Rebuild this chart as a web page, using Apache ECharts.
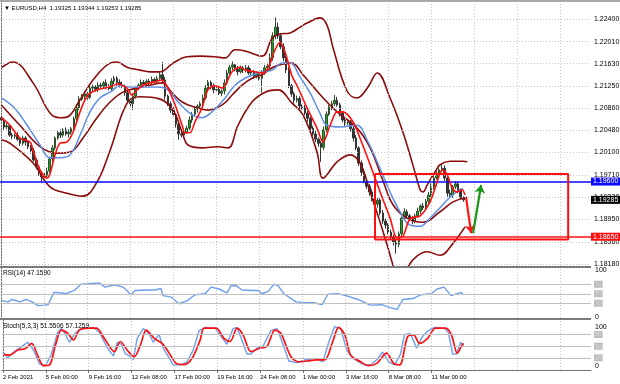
<!DOCTYPE html>
<html><head><meta charset="utf-8">
<script src="https://cdn.jsdelivr.net/npm/echarts@6/dist/echarts.min.js"></script>
<style>html,body{margin:0;padding:0;background:#fff}#c{width:620px;height:384px}</style>
</head><body><div id="c"></div>
<script>
// ---------- DATA ----------
const firstOpen = 1.2070;
const closes = [1.2066,1.2054,1.2056,1.2040,1.2038,1.2040,1.2033,1.2026,1.2035,1.2028,
1.2020,1.2013,1.1997,1.1985,1.1975,1.1968,1.1971,1.1978,1.1999,1.2018,
1.2035,1.2044,1.2040,1.2049,1.2042,1.2045,1.2051,1.2068,1.2087,1.2102,
1.2107,1.2111,1.2105,1.2121,1.2123,1.2119,1.2126,1.2124,1.2130,1.2124,
1.2120,1.2133,1.2138,1.2131,1.2126,1.2124,1.2113,1.2100,1.2094,1.2107,
1.2121,1.2126,1.2131,1.2128,1.2133,1.2131,1.2136,1.2132,1.2138,1.2144,
1.2135,1.2107,1.2094,1.2083,1.2075,1.2059,1.2042,1.2040,1.2045,1.2052,
1.2066,1.2076,1.2085,1.2090,1.2094,1.2104,1.2121,1.2131,1.2124,1.2118,
1.2119,1.2112,1.2116,1.2130,1.2147,1.2157,1.2161,1.2154,1.2149,1.2156,
1.2152,1.2156,1.2147,1.2149,1.2142,1.2145,1.2138,1.2149,1.2156,1.2159,
1.2173,1.2211,1.2226,1.2211,1.2192,1.2173,1.2152,1.2125,1.2111,1.2100,
1.2103,1.2090,1.2087,1.2078,1.2069,1.2052,1.2042,1.2033,1.2026,1.2019,
1.2049,1.2076,1.2088,1.2094,1.2100,1.2092,1.2078,1.2066,1.2061,1.2063,
1.2051,1.2035,1.2018,1.1992,1.1976,1.1961,1.1952,1.1942,1.1930,1.1921,
1.1928,1.1906,1.1892,1.1885,1.1873,1.1864,1.1856,1.1852,1.1870,1.1897,
1.1908,1.1901,1.1896,1.1892,1.1901,1.1909,1.1918,1.1915,1.1926,1.1937,
1.1951,1.1966,1.1973,1.1980,1.1983,1.1966,1.1940,1.1937,1.1951,1.1956,
1.1945,1.19325,1.19285];
// wick lengths beyond the body, in pips
const hiWick = [4,3,5,2,4,3,5,3,4,3, 2,3,4,3,2,3,5,6,4,5, 3,4,6,3,4,5,3,4,6,5, 4,5,3,6,4,3,5,4,3,6,
4,5,4,3,5,6,3,4,3,5, 4,3,5,4,3,4,5,3,4,6, 22,5,3,4,5,3,4,3,5,4, 6,4,5,3,4,6,5,4,3,5,
4,5,3,6,5,4,6,3,5,4, 3,5,4,6,3,5,4,3,5,6, 8,6,17,8,5,6,4,5,3,4, 5,4,3,5,4,3,4,5,3,4,
6,5,4,5,9,6,4,3,5,4, 3,4,5,3,4,6,3,4,5,6, 4,3,5,4,3,4,5,6,4,3, 6,4,3,5,4,6,3,5,4,5,
6,4,5,3,6,5,4,6,3,5, 4,3,1.9];
const loWick = [3,5,4,3,5,4,3,5,4,6, 4,5,3,4,5,9,6,4,3,5, 4,3,5,4,3,6,4,3,5,4, 3,5,4,3,6,4,5,3,4,5,
3,4,5,6,4,3,5,4,6,11, 4,3,5,4,3,5,4,3,4,5, 5,6,4,5,3,6,10,4,5,3, 4,5,3,6,4,5,3,4,5,6,
4,3,5,6,4,3,5,4,6,3, 5,4,3,6,5,4,4,25,5,4, 4,5,6,5,4,6,5,4,5,6, 4,5,3,4,6,5,4,5,6,25,
5,4,3,5,4,3,6,4,5,4, 5,6,4,5,6,4,5,6,4,5, 6,4,5,6,4,5,6,16,5,4, 3,5,4,6,4,3,5,4,3,5,
4,5,3,6,4,5,6,4,5,4, 5,4,3.2];
const lastBar = [1.19325, 1.19344, 1.19253, 1.19285]; // O H L C
const symbolName = 'EURUSD,H4';

const dateTickIdx  = [0,16,32,48,64,80,96,112,128,144,160];
const dateTickText = ['2 Feb 2021','5 Feb 00:00','9 Feb 16:00','12 Feb 08:00','17 Feb 00:00','19 Feb 16:00','24 Feb 08:00','1 Mar 00:00','3 Mar 16:00','8 Mar 08:00','11 Mar 00:00'];
const vGridIdx = [0,16,32,48,64,80,96,112,128,144,160,176,192,208];
const priceTicks = [1.22400,1.22010,1.21630,1.21250,1.20860,1.20480,1.20100,1.19710,1.19330,1.18950,1.18560,1.18180];

// indicator lines: [bar index, value]
const bbUpper = [[0,1.2156],[4.3,1.2166],[11.8,1.2130],[18.1,1.2078],[21.8,1.2070],[24.4,1.2071],[29.3,1.2101],[34.1,1.2135],[40.5,1.2164],[43.1,1.2166],[46.8,1.2157],[51.6,1.2152],[55.3,1.2149],[59.1,1.2149],[63.9,1.2164],[69.1,1.2175],[74.0,1.2176],[79.5,1.2175],[83.3,1.2173],[87.0,1.2187],[90.7,1.2185],[97.1,1.2176],[100.8,1.2207],[103.7,1.2214],[107.5,1.2216],[111.2,1.2226],[113.8,1.2233],[118.6,1.2242],[121.2,1.2230],[123.5,1.2190],[128.7,1.2116],[132.4,1.2104],[136.5,1.2123],[139.9,1.2147],[144.7,1.2104],[149.5,1.2045],[153.3,1.1987],[155.9,1.1946],[157.0,1.1942],[158.5,1.1954],[159.6,1.1963],[161.5,1.1977],[163.3,1.1989],[167.0,1.1995],[171.9,1.1995],[173.4,1.1994]];
const bbMiddle = [[0,1.2092],[6.9,1.2057],[14.4,1.2020],[20.7,1.2009],[25.6,1.2011],[30.4,1.2035],[35.6,1.2070],[40.5,1.2097],[45.3,1.2114],[50.5,1.2121],[55.3,1.2126],[59.8,1.2130],[63.5,1.2113],[67.3,1.2097],[72.1,1.2088],[76.9,1.2083],[82.2,1.2092],[85.9,1.2109],[89.6,1.2126],[93.3,1.2138],[97.1,1.2144],[100.8,1.2156],[104.5,1.2162],[108.2,1.2164],[112.3,1.2144],[119.8,1.2104],[125.0,1.2080],[132.4,1.2052],[137.3,1.2018],[142.1,1.1961],[145.8,1.1920],[151.0,1.1897],[157.0,1.1890],[163.3,1.1908],[168.2,1.1925],[173.4,1.1933]];
const bbLower = [[0,1.2032],[3.2,1.2026],[11.8,1.1992],[18.1,1.1951],[24.4,1.1940],[30.4,1.1935],[35.6,1.1959],[40.5,1.2014],[46.8,1.2095],[51.6,1.2106],[59.1,1.2102],[63.9,1.2083],[67.3,1.2045],[69.5,1.2023],[74.7,1.2018],[80.7,1.2020],[84.4,1.2018],[88.1,1.2057],[93.3,1.2097],[98.2,1.2114],[103.0,1.2118],[108.2,1.2095],[112.3,1.2075],[117.5,1.2011],[119.8,1.1966],[125.0,1.1994],[129.8,1.2006],[133.5,1.1992],[137.3,1.1942],[141.0,1.1890],[143.6,1.1851],[145.8,1.1816],[148.4,1.1782],[151.6,1.1815],[154.8,1.1832],[158.5,1.1839],[163.3,1.1833],[168.2,1.1854],[172.6,1.1882]];
const maSlow = [[0,1.2104],[4.8,1.2087],[9.6,1.2057],[14.4,1.2023],[18.1,1.2001],[21.8,1.2001],[25.6,1.2006],[29.3,1.2040],[33.0,1.2080],[36.7,1.2104],[40.5,1.2114],[44.2,1.2125],[47.9,1.2123],[55.3,1.2123],[58.3,1.2123],[62.0,1.2118],[65.8,1.2097],[71.0,1.2075],[74.7,1.2070],[78.4,1.2080],[83.3,1.2104],[87.0,1.2126],[90.7,1.2138],[95.6,1.2147],[100.8,1.2152],[104.5,1.2164],[107.5,1.2164],[111.2,1.2140],[114.9,1.2113],[118.6,1.2078],[121.2,1.2057],[126.1,1.2054],[132.4,1.2057],[136.1,1.2032],[139.9,1.1994],[144.7,1.1942],[148.4,1.1908],[152.1,1.1885],[155.9,1.1883],[159.6,1.1897],[163.3,1.1915],[167.0,1.1933],[170.8,1.1946],[171.9,1.1947]];
const maFast = [[0,1.2070],[3.2,1.2057],[6.9,1.2035],[10.7,1.2028],[11.8,1.2014],[14.4,1.1980],[17.0,1.1966],[18.1,1.1973],[20.0,1.2006],[21.8,1.2026],[24.4,1.2028],[26.7,1.2045],[29.3,1.2080],[31.9,1.2107],[35.6,1.2118],[40.5,1.2123],[43.1,1.2128],[46.8,1.2121],[48.6,1.2109],[50.5,1.2118],[52.7,1.2126],[55.3,1.2130],[57.2,1.2132],[59.8,1.2135],[62.0,1.2121],[64.7,1.2092],[67.3,1.2057],[68.4,1.2044],[70.2,1.2044],[72.1,1.2063],[74.7,1.2087],[76.9,1.2118],[79.5,1.2125],[82.2,1.2121],[85.9,1.2149],[88.9,1.2157],[90.7,1.2152],[94.4,1.2149],[97.1,1.2147],[99.3,1.2156],[101.9,1.2187],[103.7,1.2200],[105.6,1.2183],[108.2,1.2142],[110.1,1.2125],[113.8,1.2087],[117.5,1.2052],[119.8,1.2028],[122.4,1.2057],[125.0,1.2080],[127.2,1.2080],[130.9,1.2063],[133.5,1.2035],[137.3,1.1989],[141.0,1.1942],[144.7,1.1897],[147.3,1.1863],[149.5,1.1866],[152.1,1.1896],[155.9,1.1901],[159.6,1.1925],[162.2,1.1959],[164.1,1.1980],[165.9,1.1973],[167.8,1.1949],[169.6,1.1942],[171.5,1.1946],[172.6,1.1937]];

const rsi14 = [[0,36],[2.5,33],[4,38],[6.9,33],[9.2,38],[11.4,33],[13.6,25],[15.9,26],[17.4,27],[19.6,53],[21.8,52],[24.1,50],[27.1,57],[29.7,70],[32.6,71],[36.4,73],[38.6,64],[42.3,69],[45.3,64],[48.3,48],[49.8,57],[54.2,58],[57.2,58],[59.4,61],[60.2,46],[63.2,43],[66.1,29],[69.1,35],[72.1,48],[75.8,50],[78.1,64],[81,60],[84,52],[85.5,67],[87.4,67],[89.6,58],[93.3,57],[95.6,57],[97.1,50],[99.3,55],[101.5,70],[103,67],[105.2,50],[109.7,33],[113.4,31],[116.4,31],[119.4,27],[121.6,49],[125.3,50],[128.3,46],[132.8,38],[137.3,26],[141.7,27],[144,22],[147.3,17],[149.5,38],[153.3,40],[156.2,48],[160,50],[162.2,60],[164.8,64],[167.4,46],[171.1,53],[172,47.1590]];
const rsiLevels = [70,50,30];
const stochMain = [[0,35],[1.7,20],[4,35],[6.2,45],[9.2,60],[11.4,40],[13.6,5],[15.9,0],[18.1,30],[20.4,85],[21.8,95],[23.3,80],[24.8,60],[27.1,85],[29.3,96],[33.8,98],[36,85],[39,45],[41.2,25],[42.7,60],[44.2,55],[45.7,30],[47.2,25],[48.6,15],[50.1,70],[52.4,95],[54.6,80],[56.1,60],[58.3,80],[59.8,45],[62,20],[63.5,2],[66.5,2],[68.7,10],[71,40],[73.2,90],[75.5,98],[79.2,96],[81.4,75],[83.6,55],[85.9,95],[87.4,98],[88.9,70],[91.1,30],[92.6,30],[94.8,45],[97.1,50],[100,90],[102.3,95],[104.5,55],[106.7,12],[109.7,8],[112.7,15],[115.7,18],[117.9,15],[119.4,10],[121.6,60],[123.8,100],[126.1,95],[128.3,40],[130.5,20],[132.8,10],[135,2],[137.3,2],[139.5,15],[141.7,35],[144,10],[146.2,2],[148.4,30],[149.9,80],[152.1,82],[154.4,45],[156.6,75],[158.8,90],[161.1,98],[164.8,96],[166.3,85],[167.8,30],[169.3,30],[170.8,60],[171.5,62],[172,51.5506]];
const stochSignal = [[0,29],[2.5,27],[5.5,40],[8.4,44],[10.7,57],[12.9,27],[15.1,0],[17.4,2],[19.6,53],[21.8,91],[24.1,83],[26.3,66],[28.5,91],[31.9,96],[34.9,96],[37.8,70],[41.6,36],[43.8,62],[46.8,36],[49,23],[51.3,53],[53.5,91],[56.5,70],[59.4,57],[61.7,36],[64.7,6],[67.6,3],[70.6,19],[73.6,66],[75.1,96],[79.5,96],[82.5,70],[84.8,62],[87.4,96],[89.6,79],[92.6,36],[95.6,44],[98.5,49],[101.5,91],[103.7,83],[107.5,23],[110.4,10],[113.4,12],[117.1,15],[120.1,15],[123.1,62],[125.3,98],[127.6,79],[129.8,27],[133.5,10],[136.5,0],[139.5,6],[143.2,32],[145.8,6],[148.1,2],[151,74],[153.3,79],[155.5,57],[158.5,70],[161.5,96],[165.2,96],[167.4,79],[169.6,32],[171.4,53],[172,57.1259]];
const stochLevels = [80,50,20];

const resistLine = 1.19600;
const supportLine = 1.18650;
const zoneBox = {from:139.1, to:211.0, top:1.1973, bottom:1.1860};
const downArrow = [[173.0,1.1932],[174.9,1.1871]];
const upArrow = [[175.6,1.1871],[178.6,1.1954]];

// ---------- BUILD ----------
const FONT = '"Liberation Sans", Arial, sans-serif';
const NCAT = 220;
const cats = Array.from({length:NCAT}, (_, i) => String(i));
const candles = closes.map((c, i) => {
  const o = i === 0 ? firstOpen : closes[i-1];
  const hi = Math.max(o, c) + hiWick[i] * 0.0001;
  const lo = Math.min(o, c) - loWick[i] * 0.0001;
  return [o, c, +lo.toFixed(5), +hi.toFixed(5)];
});
const gridDot = {color:'#c4c4c4', type:[1,2], width:1};
const vLines = vGridIdx.map(v => ({xAxis:v, lineStyle:gridDot, label:{show:false}}));
const tickLab = (v, txt) => ({yAxis:v, lineStyle:gridDot,
  label:{show:true, position:'end', formatter:txt, color:'#000', fontSize:7, distance:3, fontFamily:FONT}});
const levelLab = (v) => ({yAxis:v, lineStyle:{color:'#c0c0c0', width:1, type:'solid'},
  label:{show:true, position:'end', formatter:String(v), color:'#d6d6d6', backgroundColor:'#bdbdbd', fontSize:6, distance:3, padding:[1,1,0,1], fontFamily:FONT}});
const edgeLab = (v) => ({yAxis:v, lineStyle:{color:'rgba(0,0,0,0)', width:1},
  label:{show:true, position:'end', formatter:String(v), color:'#000', fontSize:7, distance:4, fontFamily:FONT}});
const boxLab = (v, bg, col) => ({yAxis:v, lineStyle:{color:col, width:1.6, type:'solid'},
  label:{show:true, position:'end', formatter:v.toFixed(5), color:'#fff', backgroundColor:bg, fontSize:7, distance:0, padding:[1,3,0,2], fontFamily:FONT}});
const lineS = (data, color, w, xi, yi, z, smooth) => ({type:'line', data, xAxisIndex:xi, yAxisIndex:yi, showSymbol:false, symbol:'none',
  smooth: smooth || false, lineStyle:{color, width:w}, z, silent:true, animation:false});
const mark = (data, extra) => Object.assign({silent:true, symbol:['none','none'], animation:false, precision:6, data}, extra || {});

const chart = echarts.init(document.getElementById('c'), null, {renderer:'canvas'});
chart.setOption({
  animation:false,
  backgroundColor:'#ffffff',
  grid:[
    {left:0, right:29, top:3, height:263},
    {left:0, right:29, top:268, height:50},
    {left:0, right:29, top:320, height:50}
  ],
  xAxis:[
    {type:'category', gridIndex:0, data:cats, boundaryGap:true, show:false},
    {type:'value', gridIndex:0, min:-0.5, max:NCAT-0.5, show:false},
    {type:'value', gridIndex:1, min:-0.5, max:NCAT-0.5, show:false},
    {type:'value', gridIndex:2, min:-0.5, max:NCAT-0.5, show:false},
    {type:'category', gridIndex:2, data:cats, boundaryGap:true, position:'bottom',
      axisLine:{show:true, lineStyle:{color:'#707070', width:1}},
      axisTick:{show:true, alignWithLabel:true, length:3, lineStyle:{color:'#707070'},
        interval:(i) => dateTickIdx.indexOf(i) >= 0},
      axisLabel:{show:true, interval:(i) => dateTickIdx.indexOf(i) >= 0,
        formatter:(v) => { const k = dateTickIdx.indexOf(+v); return k >= 0 ? dateTickText[k] : ''; },
        align:'left', margin:4, fontSize:6, color:'#000', fontFamily:FONT},
      splitLine:{show:false}}
  ],
  yAxis:[
    {type:'value', gridIndex:0, min:1.181456, max:1.226756, position:'right', scale:true,
      axisLine:{show:true, lineStyle:{color:'#707070'}}, axisLabel:{show:false}, axisTick:{show:false}, splitLine:{show:false}},
    {type:'value', gridIndex:1, min:-1, max:104.2, position:'right',
      axisLine:{show:true, lineStyle:{color:'#707070'}}, axisLabel:{show:false}, axisTick:{show:false}, splitLine:{show:false}},
    {type:'value', gridIndex:2, min:-11, max:117, position:'right',
      axisLine:{show:true, lineStyle:{color:'#707070'}}, axisLabel:{show:false}, axisTick:{show:false}, splitLine:{show:false}}
  ],
  graphic:[
    {type:'rect', shape:{x:0, y:0, width:620, height:2}, style:{fill:'#a8a8a8'}, z:10},
    {type:'rect', shape:{x:0, y:266, width:591, height:2}, style:{fill:'#7a7a7a'}, z:10},
    {type:'rect', shape:{x:0, y:318, width:591, height:2}, style:{fill:'#7a7a7a'}, z:10},
    {type:'text', left:4, top:5, z:10, style:{text:'\u25BC ' + symbolName + '  ' + lastBar.map(v => v.toFixed(5)).join(' '), fontSize:6, fill:'#000', fontFamily:FONT}},
    {type:'text', left:3, top:270, z:10, style:{text:'RSI(14) ' + rsi14[rsi14.length-1][1].toFixed(4), fontSize:6.5, fill:'#000', fontFamily:FONT}},
    {type:'text', left:3, top:323, z:10, style:{text:'Stoch(5,3,3) ' + stochMain[stochMain.length-1][1].toFixed(4) + ' ' + stochSignal[stochSignal.length-1][1].toFixed(4), fontSize:6.5, fill:'#000', fontFamily:FONT}}
  ],
  series:[
    // main grid lines + price labels
    {type:'line', xAxisIndex:1, yAxisIndex:0, data:[], z:0, silent:true,
      markLine: mark(priceTicks.map(v => tickLab(v, v.toFixed(5))).concat(vLines))},
    {type:'candlestick', xAxisIndex:0, yAxisIndex:0, data:candles, barWidth:2, z:2, silent:true,
      itemStyle:{color:'#1fa61f', color0:'#333333', borderColor:'#2f4f2f', borderColor0:'#333333', borderWidth:1}},
    lineS(bbUpper, '#8b0c0c', 1.6, 1, 0, 3, 0.4),
    lineS(bbMiddle, '#8b0c0c', 1.6, 1, 0, 3, 0.4),
    lineS(bbLower, '#8b0c0c', 1.6, 1, 0, 3, 0.4),
    lineS(maSlow, '#5b8ee6', 1.5, 1, 0, 4, 0.4),
    lineS(maFast, '#ff1010', 1.6, 1, 0, 5, 0.3),
    // horizontal levels and price boxes
    {type:'line', xAxisIndex:1, yAxisIndex:0, data:[], z:6, silent:true,
      markLine: mark([boxLab(resistLine, '#0a0aff', '#0a0aff'), boxLab(supportLine, '#ff1010', '#ff1010'),
        boxLab(lastBar[3], '#000000', 'rgba(0,0,0,0)')])},
    // zone rectangle
    lineS([[zoneBox.from, zoneBox.top],[zoneBox.to, zoneBox.top],[zoneBox.to, zoneBox.bottom],[zoneBox.from, zoneBox.bottom],[zoneBox.from, zoneBox.top]], '#ff1010', 2, 1, 0, 6),
    // arrows
    {type:'line', xAxisIndex:1, yAxisIndex:0, data:[], z:7, silent:true,
      markLine:{silent:true, animation:false, precision:6, symbol:['none','arrow'], symbolSize:8, label:{show:false},
        data:[
          [{coord:downArrow[0], lineStyle:{color:'#ff1a1a', width:2.2, type:'solid'}}, {coord:downArrow[1]}],
          [{coord:upArrow[0], lineStyle:{color:'#1a961a', width:2.2, type:'solid'}}, {coord:upArrow[1]}]
        ]}},
    // RSI panel
    {type:'line', xAxisIndex:2, yAxisIndex:1, data:[], z:0, silent:true,
      markLine: mark(rsiLevels.map(levelLab).concat([edgeLab(100), edgeLab(0)]).concat(vLines))},
    lineS(rsi14, '#6d9eeb', 1.4, 2, 1, 3),
    // Stochastic panel
    {type:'line', xAxisIndex:3, yAxisIndex:2, data:[], z:0, silent:true,
      markLine: mark(stochLevels.map(levelLab).concat([edgeLab(100), edgeLab(0)]).concat(vLines))},
    lineS(stochMain, '#6d9eeb', 1.4, 3, 2, 3),
    lineS(stochSignal, '#ff1010', 1.7, 3, 2, 4, 0.3)
  ]
});
</script>
</body></html>
